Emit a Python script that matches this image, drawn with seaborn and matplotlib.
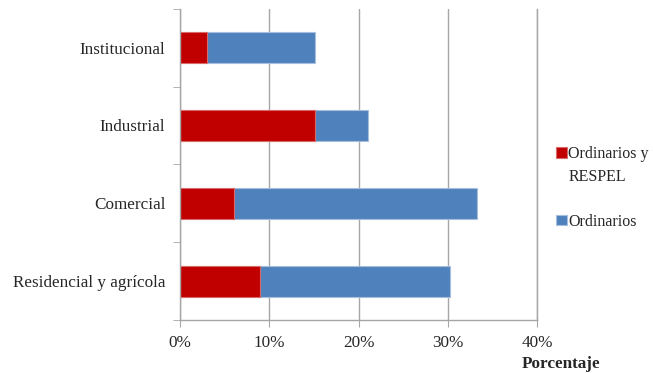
import pandas as pd
import matplotlib.pyplot as plt
import seaborn as sns

# Datos (porcentaje)
categorias = ['Institucional', 'Industrial', 'Comercial', 'Residencial y agrícola']
ordinarios_respel = [3.0, 15.1, 6.1, 9.0]
ordinarios = [12.1, 6.0, 27.2, 21.3]
xticks = [0, 10, 20, 30, 40]

rojo = '#C00000'
azul = '#4F81BD'
gris = '#A6A6A6'

df = pd.DataFrame({
    'Categoria': categorias,
    'Ordinarios y RESPEL': ordinarios_respel,
    'Ordinarios': ordinarios,
})
df['Total'] = df['Ordinarios y RESPEL'] + df['Ordinarios']

sns.set_style('white')
plt.rcParams['font.family'] = ['Liberation Serif', 'DejaVu Serif']
plt.rcParams['font.size'] = 12.3

fig = plt.figure(figsize=(6.54, 3.73), dpi=100)
ax = fig.add_axes([180 / 654, 1 - 320 / 373, 357 / 654, 311.3 / 373])

# barra total (azul) y encima la parte roja
sns.barplot(data=df, x='Total', y='Categoria', color=azul, width=0.4,
            saturation=1, ax=ax, label='Ordinarios',
            edgecolor='#A7BFDE', linewidth=0.8)
sns.barplot(data=df, x='Ordinarios y RESPEL', y='Categoria', color=rojo,
            width=0.4, saturation=1, ax=ax, label='Ordinarios y RESPEL',
            edgecolor='#D86A6A', linewidth=0.8)

ax.set_xlim(0, 40)
ax.set_ylim(3.5, -0.5)
ax.set_xticks(xticks)
ax.set_xticklabels([f'{v}%' for v in xticks])
ax.set_xlabel('')
ax.set_ylabel('')

ax.grid(axis='x', color=gris, linewidth=1)
ax.grid(axis='y', visible=False)
ax.set_axisbelow(True)

ax.spines['top'].set_visible(False)
for s in ['left', 'bottom', 'right']:
    ax.spines[s].set_color(gris)
    ax.spines[s].set_linewidth(1)

ax.tick_params(axis='x', direction='out', length=5, color=gris, pad=6,
               labelsize=12.3, bottom=True)
ax.tick_params(axis='y', which='major', length=0, pad=10.5, labelsize=12.3)
ax.set_yticks([-0.5, 0.5, 1.5, 2.5, 3.5], minor=True)
ax.tick_params(axis='y', which='minor', direction='out', length=5,
               color=gris, left=True)

handles, labels = ax.get_legend_handles_labels()
orden = [1, 0]
leg = ax.legend([handles[i] for i in orden], ['Ordinarios y\nRESPEL', 'Ordinarios'],
                loc='upper left', bbox_to_anchor=(550 / 654, 1 - 140 / 373),
                bbox_transform=fig.transFigure, frameon=False,
                handlelength=0.65, handleheight=0.65, handletextpad=0.1,
                labelspacing=1.8, fontsize=11.5, borderaxespad=0)
leg.get_texts()[0].set_linespacing(1.55)
# cuadro rojo alineado con la primera linea del texto
leg.legend_handles[0].set_y(leg.legend_handles[0].get_y() + 10)

fig.text(561 / 654, 1 - 364 / 373, 'Porcentaje', ha='center', va='center',
         fontsize=12.3, fontweight='bold')

fig.savefig('out.png', dpi=100)
